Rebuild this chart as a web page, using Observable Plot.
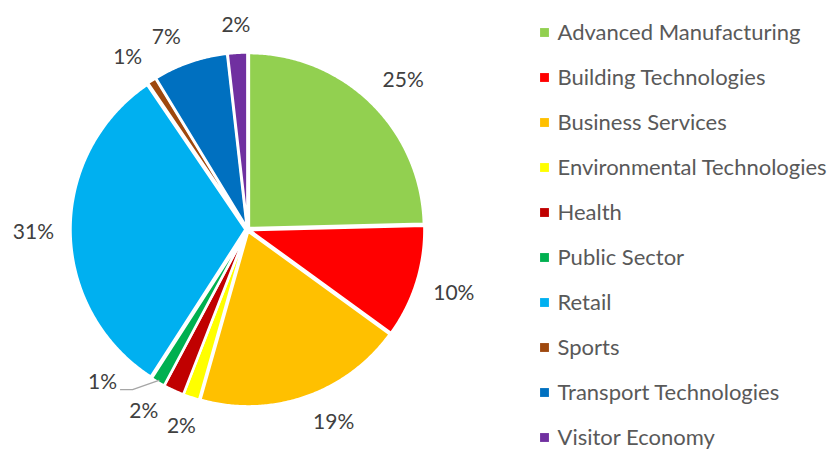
<!DOCTYPE html>
<html>
<head>
<meta charset="utf-8">
<script src="https://cdn.jsdelivr.net/npm/d3@7"></script>
<script src="https://cdn.jsdelivr.net/npm/@observablehq/plot@0.6"></script>
<style>
  html, body { margin: 0; padding: 0; background: #ffffff; }
  #chart { width: 835px; height: 452px; overflow: hidden; }
</style>
</head>
<body>
<div id="chart"></div>
<script>
// ---- data ----
const categories = [
  "Advanced Manufacturing", "Building Technologies", "Business Services",
  "Environmental Technologies", "Health", "Public Sector", "Retail",
  "Sports", "Transport Technologies", "Visitor Economy"
];
const values = [24.6, 10.4, 19.4, 1.5, 1.9, 1.3, 31.4, 0.8, 6.9, 1.8];
const colors = ["#92D050", "#FF0000", "#FFC000", "#FFFF00", "#C00000",
                "#00B050", "#00B0F0", "#9E480E", "#0070C0", "#7030A0"];
// label angle nudges (degrees) mimicking the spreadsheet's label collision handling
const labelNudge = [2, 0, -5, 0, 5, 13, 0, -2, -4, 0];

// ---- layout ----
const W = 835, H = 452;
const cx = 247, cy = 229, R = 175, explode = 2, gap = 19;
const legendX = 544, legendY0 = 32, legendStep = 45;

const total = d3.sum(values);
const toRad = Math.PI / 180;
let acc = 0;
const slices = values.map((v, i) => {
  const a0 = acc / total * 2 * Math.PI;
  acc += v;
  const a1 = acc / total * 2 * Math.PI;
  return {cat: categories[i], value: v, a0, a1, mid: (a0 + a1) / 2, i};
});

// polygon vertices for each slice
const piePts = [];
for (const s of slices) {
  const ox = explode * Math.sin(s.mid), oy = -explode * Math.cos(s.mid);
  piePts.push({cat: s.cat, x: cx + ox, y: cy + oy});
  const n = Math.max(2, Math.ceil((s.a1 - s.a0) / (0.5 * toRad)));
  for (let k = 0; k <= n; k++) {
    const a = s.a0 + (s.a1 - s.a0) * k / n;
    piePts.push({cat: s.cat, x: cx + ox + R * Math.sin(a), y: cy + oy - R * Math.cos(a)});
  }
}

// labels
const fmt = v => Math.round(v / total * 100) + "%";
const labels = slices.map(s => {
  const txt = fmt(s.value);
  const la = s.mid + labelNudge[s.i] * toRad;
  const digits = txt.length - 1;
  const halfW = (12 * digits + 16) / 2, halfH = 10;
  const d = R + gap + Math.abs(Math.sin(la)) * halfW + Math.abs(Math.cos(la)) * halfH;
  return {cat: s.cat, text: txt, x: cx + d * Math.sin(la), y: cy - d * Math.cos(la),
          nudged: Math.abs(labelNudge[s.i]) > 8, mid: s.mid};
});

// leader lines for strongly displaced labels
const leaders = [];
labels.filter(l => l.nudged).forEach((l, j) => {
  leaders.push({id: j, x: l.x + 18, y: l.y + 7});
  leaders.push({id: j, x: l.x + 30, y: l.y + 7});
  leaders.push({id: j, x: cx + R * Math.sin(l.mid), y: cy - R * Math.cos(l.mid)});
});

const legend = categories.map((c, i) => ({cat: c, x: legendX, y: legendY0 + i * legendStep}));

const plot = Plot.plot({
  width: W, height: H, margin: 0,
  x: {domain: [0, W], range: [0, W], axis: null},
  y: {domain: [0, H], range: [0, H], axis: null},
  color: {domain: categories, range: colors},
  style: {fontFamily: "Lato, 'Open Sans', sans-serif", background: "#ffffff"},
  marks: [
    Plot.line(piePts, {x: "x", y: "y", z: "cat", fill: "cat", stroke: "#ffffff",
                       strokeWidth: 2.5, curve: "linear-closed"}),
    Plot.line(leaders, {x: "x", y: "y", z: "id", stroke: "#A6A6A6", strokeWidth: 1.3}),
    Plot.text(labels, {x: "x", y: "y", text: "text", fill: "#404040", fontSize: 21,
                       textAnchor: "middle", lineAnchor: "middle"}),
    Plot.dot(legend, {x: "x", y: "y", fill: "cat", symbol: "square", r: 5}),
    Plot.text(legend, {x: d => d.x + 13, y: "y", text: "cat", fill: "#595959", fontSize: 22,
                       textAnchor: "start", lineAnchor: "middle"})
  ]
});
document.getElementById("chart").appendChild(plot);
</script>
</body>
</html>
